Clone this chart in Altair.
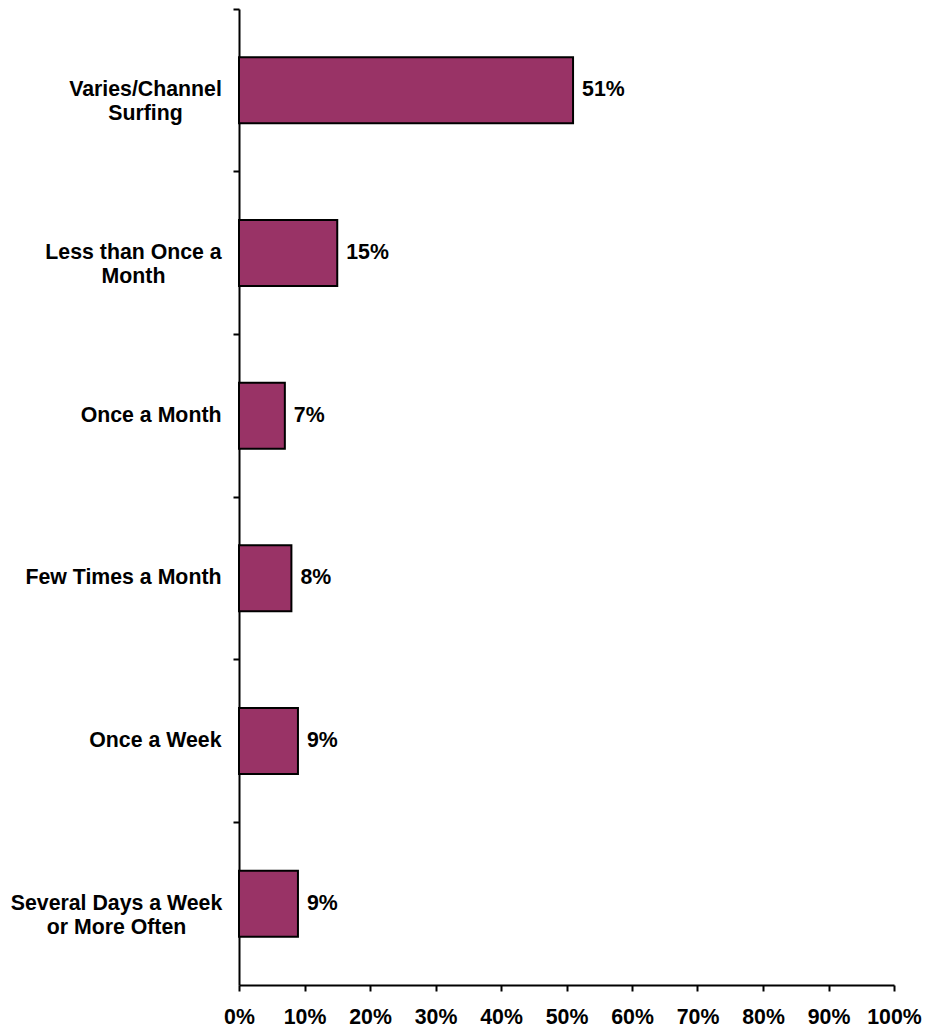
import altair as alt
import pandas as pd

categories = [
    "Varies/Channel|Surfing",
    "Less than Once a|Month",
    "Once a Month",
    "Few Times a Month",
    "Once a Week",
    "Several Days a Week|or More Often",
]
values = [0.51, 0.15, 0.07, 0.08, 0.09, 0.09]
x_ticks = [0, 0.1, 0.2, 0.3, 0.4, 0.5, 0.6, 0.7, 0.8, 0.9, 1.0]

df = pd.DataFrame({"cat": categories, "val": values})
df["lbl"] = [f"{round(v*100)}%" for v in values]

FONT = "Liberation Sans"
FS = 21.3

# centred two-line labels: distance of their centre from the tick end
two_line_pad = {
    "Varies/Channel|Surfing": 88,
    "Less than Once a|Month": 100,
    "Several Days a Week|or More Often": 117,
}

y_enc = alt.Y(
    "cat:N",
    sort=categories,
    title=None,
    scale=alt.Scale(paddingInner=0, paddingOuter=0),
    axis=alt.Axis(
        bandPosition=0,
        grid=False,
        domainColor="black",
        domainWidth=2,
        tickColor="black",
        tickWidth=2,
        tickSize=6,
        labelFont=FONT,
        labelFontSize=FS,
        labelFontWeight="bold",
        labelColor="black",
        labelExpr="split(datum.label, '|')",
        labelLineHeight=24,
        labelLimit=400,
        labelPadding={
            "condition": [
                {"test": f"datum.value == '{k}'", "value": v}
                for k, v in two_line_pad.items()
            ],
            "value": 12,
        },
        labelAlign={
            "condition": {"test": "indexof(datum.value, '|') >= 0", "value": "center"},
            "value": "right",
        },
        labelBaseline="middle",
    ),
)

x_enc = alt.X(
    "val:Q",
    title=None,
    scale=alt.Scale(domain=[0, 1], nice=False),
    axis=alt.Axis(
        values=x_ticks,
        format=".0%",
        grid=False,
        domainColor="black",
        domainWidth=2,
        tickColor="black",
        tickWidth=2,
        tickSize=6,
        labelFont=FONT,
        labelFontSize=FS,
        labelFontWeight="bold",
        labelColor="black",
        labelPadding=15,
        labelFlush=False,
        labelLimit=200,
    ),
)

bars = alt.Chart(df).mark_bar(
    size=66, color="#993366", stroke="black", strokeWidth=2
).encode(y=y_enc, x=x_enc)

text = alt.Chart(df).mark_text(
    align="left", baseline="middle", dx=9, font=FONT, fontSize=FS,
    fontWeight="bold", color="black"
).encode(y=alt.Y("cat:N", sort=categories), x="val:Q", text="lbl:N")

chart = alt.layer(bars, text).properties(
    width=655,
    height=976,
    autosize="none",
    padding={"left": 231, "top": 1, "right": 30, "bottom": 44},
).configure_view(stroke=None, strokeWidth=0, strokeOpacity=0)

chart.save("out.html", embed_options={"renderer": "svg", "actions": False})
